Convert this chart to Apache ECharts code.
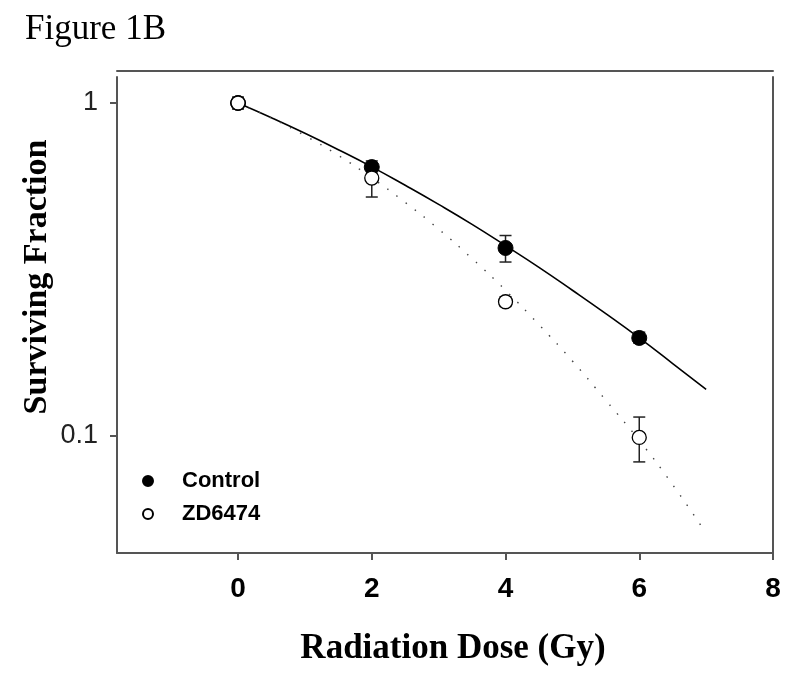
<!DOCTYPE html>
<html>
<head>
<meta charset="utf-8">
<script src="https://cdn.jsdelivr.net/npm/echarts@6/dist/echarts.min.js"></script>
<style>html,body{margin:0;padding:0;background:#fff}#main{width:800px;height:679px}</style>
</head>
<body>
<div id="main"></div>
<script>
// ---- data ----
var doses = [0, 2, 4, 6];
var controlMean = [1.0, 0.642, 0.367, 0.197];
var controlLow  = [0.985, 0.615, 0.333, 0.190];
var controlHigh = [1.015, 0.670, 0.400, 0.205];
var zdMean = [1.0, 0.595, 0.253, 0.099];
var zdLow  = [0.959, 0.522, 0.245, 0.0836];
var zdHigh = [1.042, 0.640, 0.262, 0.114];
// fitted curves
var fitDose    = [0, 0.5, 1, 1.5, 2, 2.5, 3, 3.5, 4, 4.5, 5, 5.5, 6, 6.5, 7];
var controlFit = [1.0, 0.903, 0.811, 0.724, 0.643, 0.566, 0.496, 0.432, 0.373, 0.321, 0.274, 0.233, 0.197, 0.165, 0.138];
var zdFit      = [1.0, 0.901, 0.798, 0.696, 0.596, 0.503, 0.418, 0.341, 0.274, 0.216, 0.168, 0.128, 0.097, 0.0714, 0.051];
var xTicks = [0, 2, 4, 6, 8];
var yTicks = [0.1, 1];

function pairs(xs, ys) { return xs.map(function (x, i) { return [x, ys[i]]; }); }
function errData(xs, lo, hi) { return xs.map(function (x, i) { return [x, lo[i], hi[i]]; }); }

function errRender(params, api) {
  var x = api.value(0);
  var lo = api.coord([x, api.value(1)]);
  var hi = api.coord([x, api.value(2)]);
  var w = 6;
  var st = { stroke: '#222', lineWidth: 1.5 };
  return {
    type: 'group',
    children: [
      { type: 'line', shape: { x1: hi[0], y1: hi[1], x2: lo[0], y2: lo[1] }, style: st },
      { type: 'line', shape: { x1: hi[0] - w, y1: hi[1], x2: hi[0] + w, y2: hi[1] }, style: st },
      { type: 'line', shape: { x1: lo[0] - w, y1: lo[1], x2: lo[0] + w, y2: lo[1] }, style: st }
    ]
  };
}

var serif = '"Liberation Serif", "Times New Roman", serif';
var sans = '"Liberation Sans", Arial, sans-serif';
var axisCol = '#555';
var yMin = 0.04453, yMax = 1.197;

var chart = echarts.init(document.getElementById('main'), null, { renderer: 'canvas' });
chart.setOption({
  animation: false,
  backgroundColor: '#fff',
  title: {
    text: 'Figure 1B', left: 20, top: 7,
    textStyle: { fontFamily: serif, fontSize: 35, fontWeight: 'normal', color: '#000' }
  },
  grid: { left: 117, right: 27, top: 77, bottom: 126 },
  legend: {
    data: ['Control', 'ZD6474'],
    orient: 'vertical', left: 137, top: 465,
    itemWidth: 10, itemHeight: 12, itemGap: 11,
    textStyle: { fontFamily: sans, fontSize: 22, fontWeight: 'bold', color: '#000', padding: [0, 0, 0, 24] }
  },
  xAxis: [{
    type: 'value', min: -1.81, max: 8,
    name: 'Radiation Dose (Gy)', nameLocation: 'middle', nameGap: 78, nameMoveOverlap: false,
    nameTextStyle: { fontFamily: serif, fontSize: 35, fontWeight: 'bold', color: '#000', padding: [0, 0, 0, 16] },
    axisLine: { show: true, onZero: false, lineStyle: { color: axisCol, width: 2 } },
    axisTick: { show: true, length: 7, customValues: xTicks, lineStyle: { color: axisCol, width: 2 } },
    axisLabel: { customValues: xTicks, margin: 22, fontFamily: sans, fontSize: 28, fontWeight: 'bold', color: '#000' },
    splitLine: { show: false }
  }, {
    type: 'value', min: -1.81, max: 8, position: 'top', offset: 6,
    axisLine: { show: true, onZero: false, lineStyle: { color: axisCol, width: 2 } },
    axisTick: { show: false }, axisLabel: { show: false }, splitLine: { show: false }
  }],
  yAxis: [{
    type: 'log', min: yMin, max: yMax, logBase: 10,
    name: 'Surviving Fraction', nameLocation: 'middle', nameGap: 63, nameRotate: 90, nameMoveOverlap: false,
    nameTextStyle: { fontFamily: serif, fontSize: 34, fontWeight: 'bold', color: '#000', padding: [0, 0, 0, 76] },
    axisLine: { show: true, onZero: false, lineStyle: { color: axisCol, width: 2 } },
    axisTick: { show: true, length: 7, customValues: yTicks, lineStyle: { color: axisCol, width: 2 } },
    axisLabel: {
      customValues: yTicks, margin: 19, fontFamily: sans, fontSize: 27, color: '#222',
      formatter: function (v) { return v >= 1 ? '1' : '0.1'; }
    },
    splitLine: { show: false }
  }, {
    type: 'log', min: yMin, max: yMax, logBase: 10, position: 'right',
    axisLine: { show: true, onZero: false, lineStyle: { color: axisCol, width: 2 } },
    axisTick: { show: false }, axisLabel: { show: false }, splitLine: { show: false }
  }],
  series: [
    {
      name: 'Control fit', type: 'line', data: pairs(fitDose, controlFit),
      showSymbol: false, symbol: 'none', smooth: true,
      lineStyle: { color: '#000', width: 1.6 }, z: 2, silent: true
    },
    {
      name: 'ZD6474 fit', type: 'line', data: pairs(fitDose, zdFit),
      showSymbol: false, symbol: 'none', smooth: true,
      lineStyle: { color: '#444', width: 1.4, type: [1.5, 10] }, z: 2, silent: true
    },
    {
      name: 'Control err', type: 'custom', renderItem: errRender,
      data: errData(doses, controlLow, controlHigh), z: 3, silent: true
    },
    {
      name: 'ZD6474 err', type: 'custom', renderItem: errRender,
      data: errData(doses, zdLow, zdHigh), z: 3, silent: true
    },
    {
      name: 'Control', type: 'scatter', data: pairs(doses, controlMean),
      symbol: 'circle', symbolSize: 15,
      itemStyle: { color: '#000', borderColor: '#000', borderWidth: 1, opacity: 1 }, z: 4
    },
    {
      name: 'ZD6474', type: 'scatter', data: pairs(doses, zdMean),
      symbol: 'circle', symbolSize: 14,
      itemStyle: { color: '#fff', borderColor: '#000', borderWidth: 1.3, opacity: 1 }, z: 5
    }
  ]
});
</script>
</body>
</html>
